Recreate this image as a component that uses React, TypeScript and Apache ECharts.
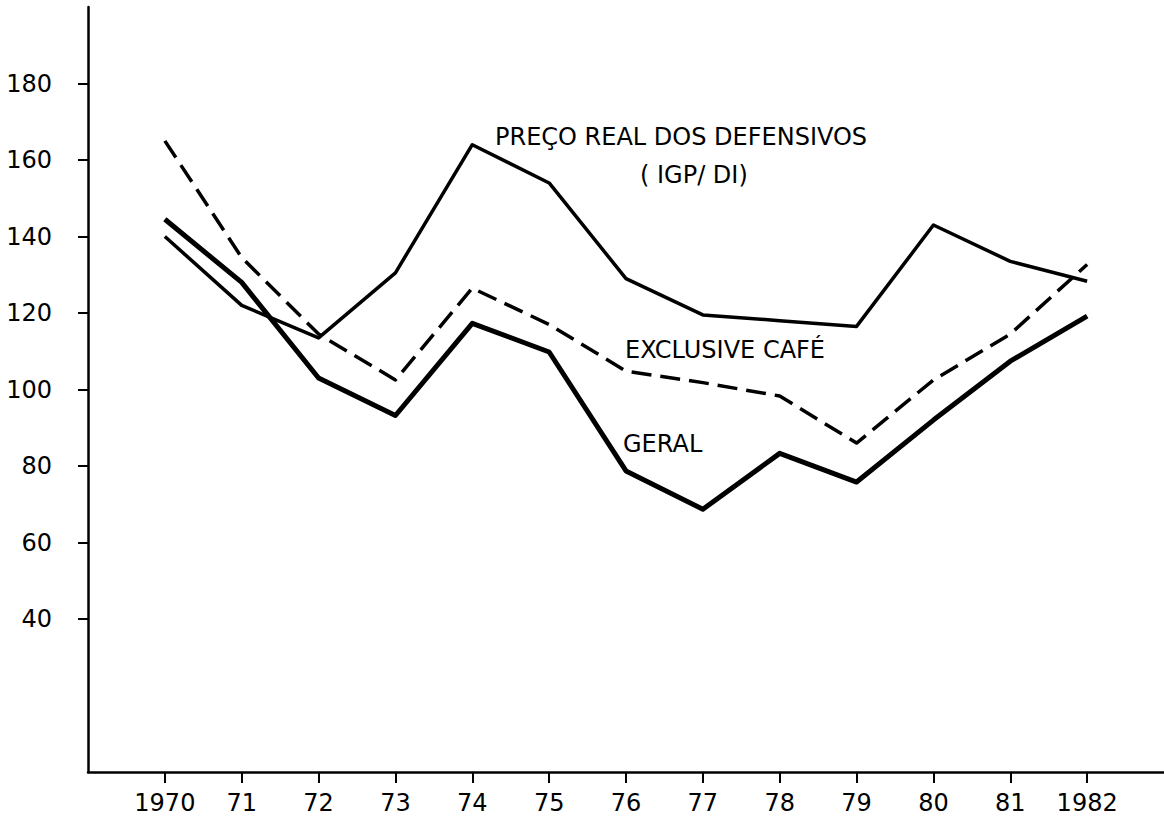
import React, { useEffect, useRef } from "react";
import * as echarts from "echarts";

const years = [1970, 1971, 1972, 1973, 1974, 1975, 1976, 1977, 1978, 1979, 1980, 1981, 1982];
const xTickLabels = ["1970", "71", "72", "73", "74", "75", "76", "77", "78", "79", "80", "81", "1982"];
const yTickValues = [40, 60, 80, 100, 120, 140, 160, 180];

const precoReal = [140, 122, 113.5, 130.5, 164, 154, 129, 119.5, 118, 116.5, 143, 133.5, 128.3];
const exclusiveCafe = [165, 134.5, 114.5, 102.5, 126.5, 117, 104.8, 101.8, 98.3, 86, 102.5, 114.5, 132.7];
const geral = [144.5, 128, 103, 93.2, 117.3, 109.8, 78.7, 68.7, 83.3, 75.8, 92, 107.4, 119.2];

const FONT = "DejaVu Sans";

function pairs(vals: number[]) {
  return years.map((y, i) => [y, vals[i]]);
}

export default function App() {
  const ref = useRef<HTMLDivElement>(null);
  useEffect(() => {
    if (!ref.current) return;
    const chart = echarts.init(ref.current, null, { renderer: "svg" });
    chart.setOption({
      animation: false,
      backgroundColor: "#ffffff",
      grid: { left: 88, right: 0, top: 7, bottom: 51, containLabel: false },
      xAxis: {
        type: "value",
        min: 1969,
        max: 1983,
        interval: 1,
        axisLine: { show: true, onZero: false, lineStyle: { color: "#000", width: 2.5 } },
        axisTick: {
          show: true,
          length: 11,
          customValues: years,
          lineStyle: { color: "#000", width: 2 },
        },
        axisLabel: {
          show: true,
          customValues: years,
          margin: 19,
          color: "#000",
          fontFamily: FONT,
          fontSize: 24,
          formatter: (v: number) => {
            const i = years.indexOf(Math.round(v));
            return i >= 0 ? xTickLabels[i] : "";
          },
        },
        splitLine: { show: false },
      },
      yAxis: {
        type: "value",
        min: 0,
        max: 200,
        interval: 20,
        axisLine: { show: true, onZero: false, lineStyle: { color: "#000", width: 2.5 } },
        axisTick: {
          show: true,
          length: 10,
          customValues: yTickValues,
          lineStyle: { color: "#000", width: 2 },
        },
        axisLabel: {
          show: true,
          customValues: yTickValues,
          margin: 36,
          color: "#000",
          fontFamily: FONT,
          fontSize: 24,
        },
        splitLine: { show: false },
      },
      series: [
        {
          name: "PREÇO REAL DOS DEFENSIVOS (IGP/DI)",
          type: "line",
          data: pairs(precoReal),
          symbol: "none",
          lineStyle: { color: "#000", width: 3.5, join: "round" },
        },
        {
          name: "EXCLUSIVE CAFÉ",
          type: "line",
          data: pairs(exclusiveCafe),
          symbol: "none",
          lineStyle: { color: "#000", width: 3.5, type: [20, 9], join: "round" },
        },
        {
          name: "GERAL",
          type: "line",
          data: pairs(geral),
          symbol: "none",
          lineStyle: { color: "#000", width: 5, join: "round" },
        },
      ],
      graphic: [
        {
          type: "text",
          left: 495,
          top: 125,
          style: { text: "PREÇO REAL DOS DEFENSIVOS", fill: "#000", font: `24px "${FONT}"` },
        },
        {
          type: "text",
          left: 640,
          top: 163,
          style: { text: "( IGP/ DI)", fill: "#000", font: `24px "${FONT}"` },
        },
        {
          type: "text",
          left: 625,
          top: 338,
          style: { text: "EXCLUSIVE CAFÉ", fill: "#000", font: `24px "${FONT}"` },
        },
        {
          type: "text",
          left: 623,
          top: 432,
          style: { text: "GERAL", fill: "#000", font: `24px "${FONT}"` },
        },
      ],
    });
    return () => chart.dispose();
  }, []);
  return (
    <div
      ref={ref}
      style={{ position: "absolute", left: 0, top: 0, width: 1164, height: 823, background: "#fff" }}
    />
  );
}
